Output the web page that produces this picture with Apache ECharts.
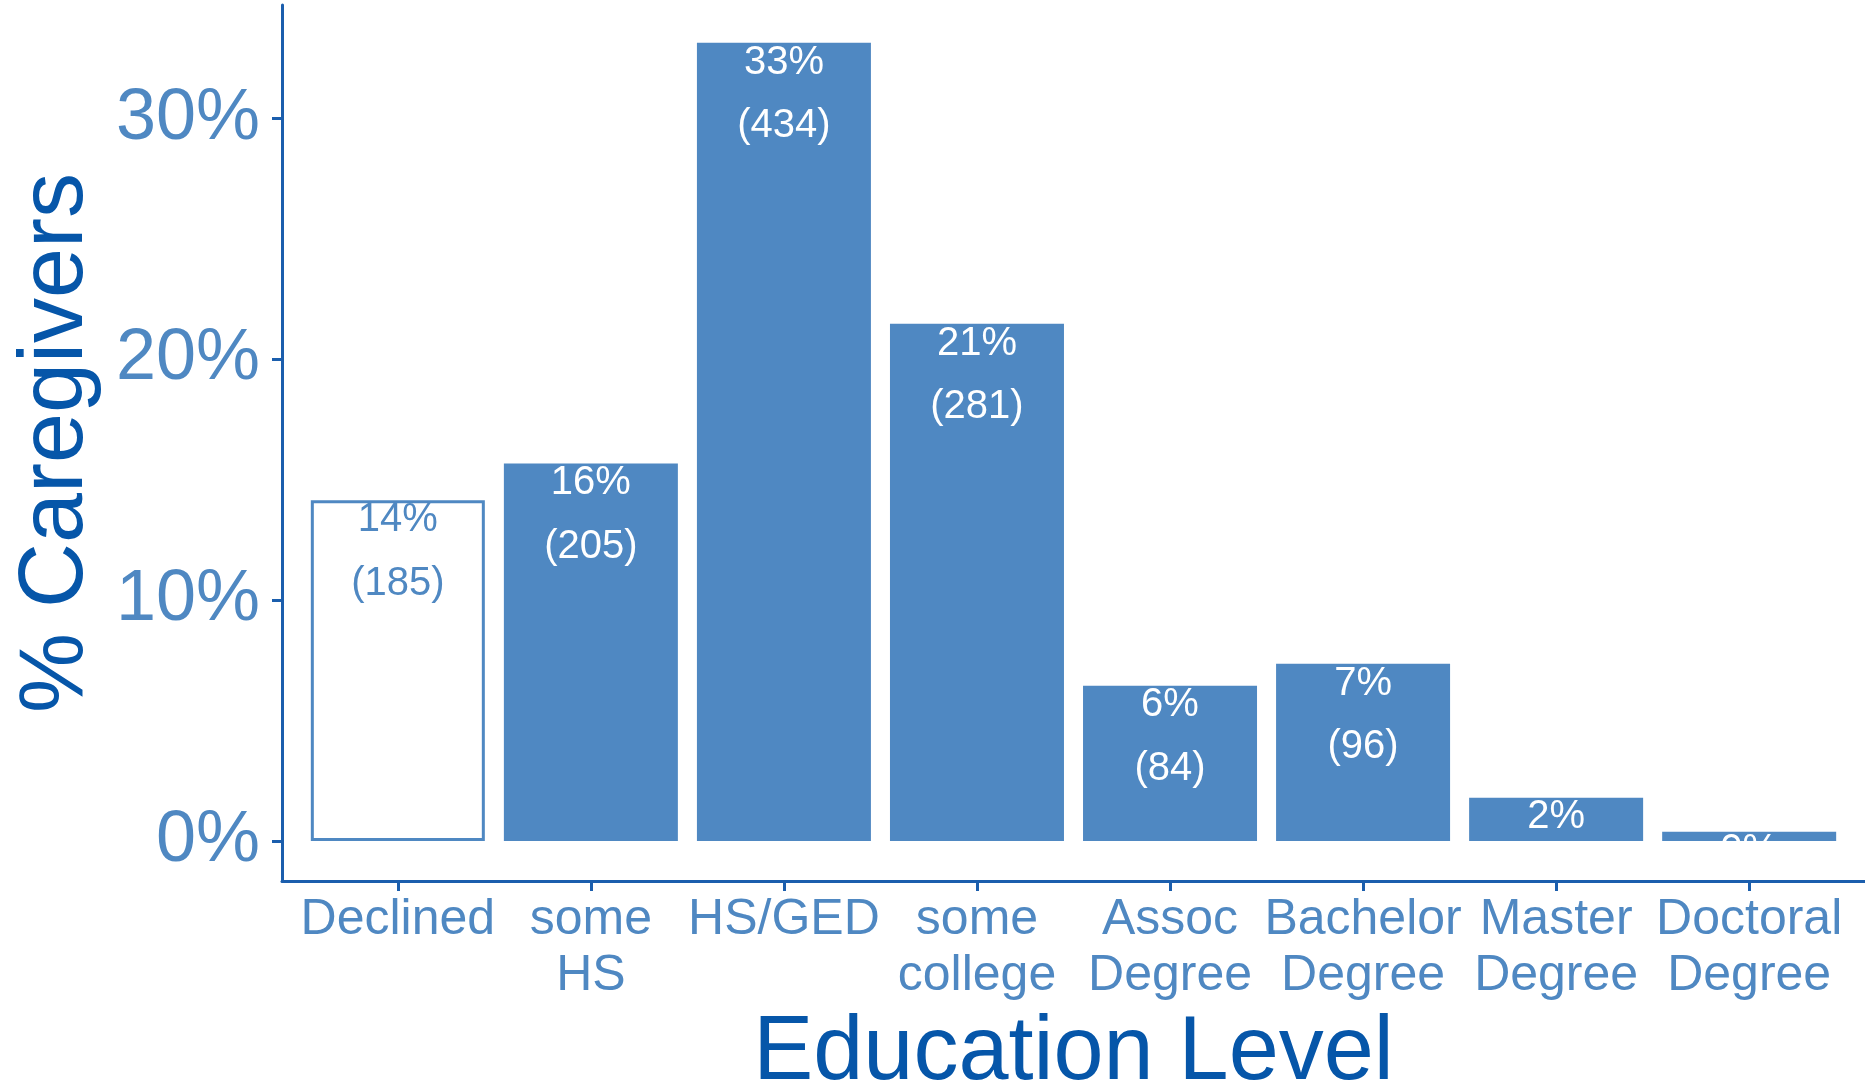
<!DOCTYPE html>
<html>
<head>
<meta charset="utf-8">
<script src="https://cdn.jsdelivr.net/npm/echarts@6/dist/echarts.min.js"></script>
<style>
  html, body { margin: 0; padding: 0; background: #ffffff; }
  #chart { width: 1865px; height: 1087px; }
</style>
</head>
<body>
<div id="chart"></div>
<script>
// ---- data ----
const categories = ['Declined', 'some\nHS', 'HS/GED', 'some\ncollege', 'Assoc\nDegree', 'Bachelor\nDegree', 'Master\nDegree', 'Doctoral\nDegree'];
const percents = [14.15, 15.68, 33.15, 21.48, 6.45, 7.36, 1.8, 0.39];
const counts = [185, 205, 434, 281, 84, 96, null, null];
const yTickValues = [0, 10, 20, 30];

// ---- styling ----
const FONT = '"Liberation Sans", Arial, sans-serif';
const barColor = '#4F88C2';
const tickLabelColor = '#4F88C2';
const axisColor = '#1B5EAD';
const titleColor = '#0656A9';

const xPositions = categories.map((c, i) => i + 1);

const seriesData = percents.map((p, i) => {
  const item = { value: [i + 1, p] };
  if (categories[i] === 'Declined') {
    item.itemStyle = { color: '#ffffff', borderColor: barColor, borderWidth: 3 };
    item.label = { color: barColor };
  }
  return item;
});

const chart = echarts.init(document.getElementById('chart'), null, { renderer: 'canvas' });
chart.setOption({
  animation: false,
  backgroundColor: '#ffffff',
  grid: { left: 282, right: 0, top: 5, bottom: 206, containLabel: false, outerBoundsMode: 'none' },
  xAxis: {
    type: 'value',
    min: 0.4,
    max: 8.6,
    splitLine: { show: false },
    axisLine: { show: true, onZero: false, lineStyle: { color: axisColor, width: 3 } },
    axisTick: { show: true, length: 10, lineStyle: { color: axisColor, width: 3 }, customValues: xPositions },
    axisLabel: {
      customValues: xPositions,
      formatter: v => categories[Math.round(v) - 1] || '',
      color: tickLabelColor,
      fontFamily: FONT,
      fontSize: 50,
      lineHeight: 56,
      margin: 11,
      hideOverlap: false
    },
    name: 'Education Level',
    nameLocation: 'middle',
    nameGap: 114,
    nameTextStyle: { color: titleColor, fontFamily: FONT, fontSize: 90 }
  },
  yAxis: {
    type: 'value',
    min: -1.66,
    max: 34.72,
    splitLine: { show: false },
    axisLine: { show: true, onZero: false, lineStyle: { color: axisColor, width: 3 } },
    axisTick: { show: true, length: 10, lineStyle: { color: axisColor, width: 3 }, customValues: yTickValues },
    axisLabel: {
      customValues: yTickValues,
      formatter: v => Math.round(v) + '%',
      color: tickLabelColor,
      fontFamily: FONT,
      fontSize: 72,
      margin: 22
    },
    name: '% Caregivers',
    nameLocation: 'middle',
    nameGap: 180,
    nameTextStyle: { color: titleColor, fontFamily: FONT, fontSize: 90 }
  },
  series: [{
    type: 'bar',
    barWidth: 174,
    data: seriesData,
    itemStyle: { color: barColor },
    label: {
      show: true,
      position: 'insideTop',
      distance: 0,
      offset: [0, -12],
      color: '#ffffff',
      fontFamily: FONT,
      fontSize: 40,
      lineHeight: 63.5,
      formatter: p => {
        const i = p.dataIndex;
        const pct = Math.round(percents[i]) + '%';
        return counts[i] != null ? pct + '\n(' + counts[i] + ')' : pct;
      }
    }
  }]
});
</script>
</body>
</html>
